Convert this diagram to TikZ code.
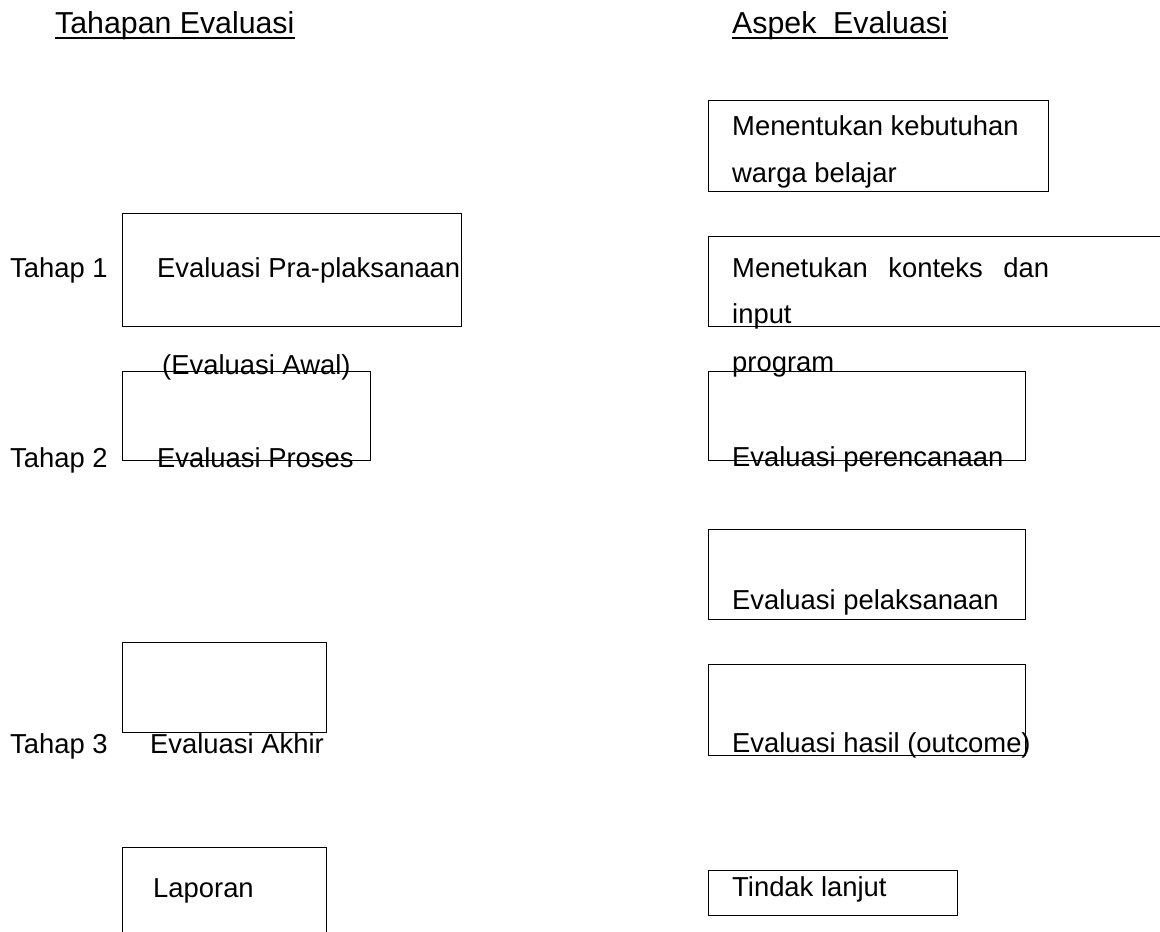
\documentclass[tikz,border=0pt]{standalone}
\usepackage{fontspec}
\setmainfont{Liberation Sans}
\begin{document}
\begin{tikzpicture}[x=1pt,y=-1pt,
  box/.style={draw=black, line width=1.3pt, inner sep=0pt, anchor=north west},
  txt/.style={inner sep=0pt, anchor=base west, font=\fontsize{27.4}{32}\selectfont},
  head/.style={inner sep=0pt, anchor=base west, font=\fontsize{30.3}{36}\selectfont}]
\useasboundingbox (0,0) rectangle (1160,932);
\clip (0,0) rectangle (1160,932);
% headings
\node[head] (h1) at (55,33) {Tahapan Evaluasi};
\node[head] (h2) at (732,33) {Aspek\ \ Evaluasi};
\draw[line width=2pt] (h1.base west) ++(0,5) -- ([yshift=-5pt]h1.base east);
\draw[line width=2pt] (h2.base west) ++(0,5) -- ([yshift=-5pt]h2.base east);
% left boxes
\node[box, minimum width=339pt, minimum height=113pt] (b1) at (122,213) {};
\node[box, minimum width=248pt, minimum height=89pt] (b2) at (122,371) {};
\node[box, minimum width=204pt, minimum height=90pt] (b3) at (122,642) {};
\node[box, minimum width=204pt, minimum height=120pt] (b4) at (122,847) {};
% right boxes
\node[box, minimum width=340pt, minimum height=91pt] (r1) at (708,100) {};
\node[box, minimum width=460pt, minimum height=90pt] (r2) at (708,236) {};
\node[box, minimum width=317pt, minimum height=89pt] (r3) at (708,371) {};
\node[box, minimum width=317pt, minimum height=90pt] (r4) at (708,529) {};
\node[box, minimum width=317pt, minimum height=91pt] (r5) at (708,664) {};
\node[box, minimum width=249pt, minimum height=45pt] (r6) at (708,870) {};
% left texts
\node[txt] (s1) at (10,277) {Tahap 1};
\node[txt] (e1) at (157,277) {Evaluasi Pra-plaksanaan};
\node[txt] (e1b) at (162,374) {(Evaluasi Awal)};
\node[txt] (s2) at (10,467) {Tahap 2};
\node[txt] (e2) at (157,467) {Evaluasi Proses};
\node[txt] (s3) at (10,753) {Tahap 3};
\node[txt] (e3) at (150,753) {Evaluasi Akhir};
\node[txt] (e4) at (153,897) {Laporan};
% right texts
\node[txt] (a1) at (732,135) {Menentukan kebutuhan};
\node[txt] (a1b) at (732,182) {warga belajar};
\node[txt] (a2) at (732,277) {\makebox[317pt][s]{Menetukan\hfill konteks\hfill dan}};
\node[txt] (a2b) at (732,323) {input};
\node[txt] (a2c) at (732,371) {program};
\node[txt] (a3) at (732,466) {Evaluasi perencanaan};
\node[txt] (a4) at (732,609) {Evaluasi pelaksanaan};
\node[txt] (a5) at (732,752) {Evaluasi hasil (outcome)};
\node[txt] (a6) at (732,896) {Tindak lanjut};
\end{tikzpicture}
\end{document}
